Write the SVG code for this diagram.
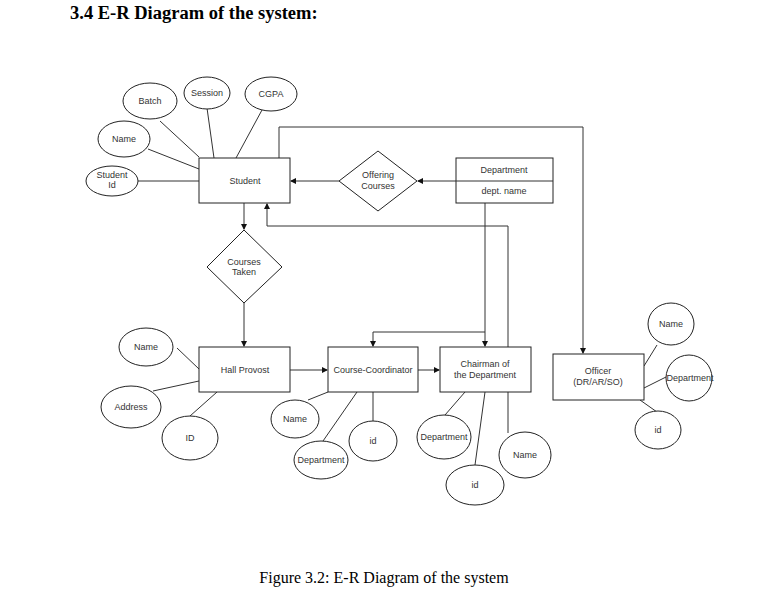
<svg xmlns="http://www.w3.org/2000/svg" width="764" height="599" viewBox="0 0 764 599">
<style>
.ent{fill:#fff;stroke:#222;stroke-width:1}
.att{fill:#fff;stroke:#222;stroke-width:1}
.t{font-family:"Liberation Sans",Arial,sans-serif;font-size:9px;fill:#333;text-anchor:middle}
.c{fill:none;stroke:#333;stroke-width:1}
</style>
<defs>
<marker id="ah" markerWidth="6" markerHeight="6" refX="5" refY="3" orient="auto" markerUnits="userSpaceOnUse">
<path d="M0,0 L6,3 L0,6 Z" fill="#111"/>
</marker>
</defs>
<rect width="764" height="599" fill="#fff"/>
<text x="70" y="19" font-family="Liberation Serif,'Times New Roman',serif" font-weight="bold" font-size="18.5" fill="#000">3.4 E-R Diagram of the system:</text>
<text x="384" y="583" font-family="Liberation Serif,'Times New Roman',serif" font-size="16" fill="#000" text-anchor="middle">Figure 3.2: E-R Diagram of the system</text>

<g id="connectors">
<line class="c" x1="160" y1="121" x2="199" y2="157"/>
<line class="c" x1="148" y1="149" x2="199" y2="169"/>
<line class="c" x1="138" y1="181" x2="199" y2="181"/>
<line class="c" x1="207" y1="108" x2="214" y2="158"/>
<line class="c" x1="262" y1="110" x2="236" y2="158"/>
<polyline class="c" points="279,158 279,127 583,127 583,353" marker-end="url(#ah)"/>
<line class="c" x1="456" y1="181" x2="418" y2="181" marker-end="url(#ah)"/>
<line class="c" x1="339" y1="181" x2="291" y2="181" marker-end="url(#ah)"/>
<line class="c" x1="244" y1="203" x2="244" y2="229" marker-end="url(#ah)"/>
<line class="c" x1="244" y1="303" x2="244" y2="346" marker-end="url(#ah)"/>
<line class="c" x1="290" y1="370" x2="327" y2="370" marker-end="url(#ah)"/>
<line class="c" x1="418" y1="370" x2="439" y2="370" marker-end="url(#ah)"/>
<line class="c" x1="485" y1="203" x2="485" y2="346" marker-end="url(#ah)"/>
<polyline class="c" points="485,332 373,332 373,346" marker-end="url(#ah)"/>
<polyline class="c" points="508,347 508,226 267,226 267,204" marker-end="url(#ah)"/>
<line class="c" x1="177" y1="348" x2="199" y2="369"/>
<line class="c" x1="153" y1="391" x2="199" y2="381"/>
<line class="c" x1="190" y1="416" x2="217" y2="392"/>
<line class="c" x1="308" y1="400" x2="328" y2="392"/>
<line class="c" x1="323" y1="441" x2="357" y2="392"/>
<line class="c" x1="373" y1="392" x2="373" y2="421"/>
<line class="c" x1="445" y1="415" x2="465" y2="392"/>
<line class="c" x1="475" y1="465" x2="485" y2="392"/>
<line class="c" x1="508" y1="433" x2="508" y2="392"/>
<line class="c" x1="657" y1="345" x2="644" y2="366"/>
<line class="c" x1="666" y1="377" x2="644" y2="388"/>
<line class="c" x1="657" y1="412" x2="640" y2="400"/>
</g>

<g id="student">
<rect class="ent" x="199" y="158" width="91" height="45"/>
<text class="t" x="245" y="184">Student</text>
</g>
<g id="student-batch">
<ellipse class="att" cx="150" cy="101" rx="27" ry="18"/>
<text class="t" x="150" y="104">Batch</text>
</g>
<g id="student-session">
<ellipse class="att" cx="207" cy="93" rx="23" ry="16"/>
<text class="t" x="207" y="96">Session</text>
</g>
<g id="student-cgpa">
<ellipse class="att" cx="271" cy="94" rx="26" ry="17"/>
<text class="t" x="271" y="97">CGPA</text>
</g>
<g id="student-name">
<ellipse class="att" cx="124" cy="139" rx="26" ry="18"/>
<text class="t" x="124" y="142">Name</text>
</g>
<g id="student-id">
<ellipse class="att" cx="112" cy="181" rx="26" ry="15"/>
<text class="t" x="112" y="178">Student</text>
<text class="t" x="112" y="188">Id</text>
</g>

<g id="offering-courses">
<polygon class="ent" points="378,151 417,181 378,211 339,181"/>
<text class="t" x="378" y="178">Offering</text>
<text class="t" x="378" y="189">Courses</text>
</g>

<g id="department">
<rect class="ent" x="456" y="158" width="97" height="45"/>
<line class="c" x1="456" y1="181" x2="553" y2="181"/>
<text class="t" x="504" y="173">Department</text>
<text class="t" x="504" y="194">dept. name</text>
</g>

<g id="courses-taken">
<polygon class="ent" points="244,230 282,267 244,303 207,267"/>
<text class="t" x="244" y="265">Courses</text>
<text class="t" x="244" y="275">Taken</text>
</g>

<g id="hall-provost">
<rect class="ent" x="199" y="347" width="91" height="45"/>
<text class="t" x="245" y="373">Hall Provost</text>
</g>
<g id="hp-name">
<ellipse class="att" cx="146" cy="347" rx="27" ry="19"/>
<text class="t" x="146" y="350">Name</text>
</g>
<g id="hp-address">
<ellipse class="att" cx="131" cy="407" rx="30" ry="21"/>
<text class="t" x="131" y="410">Address</text>
</g>
<g id="hp-id">
<ellipse class="att" cx="190" cy="438" rx="28" ry="22"/>
<text class="t" x="190" y="441">ID</text>
</g>

<g id="course-coordinator">
<rect class="ent" x="328" y="347" width="90" height="45"/>
<text class="t" x="373" y="373">Course-Coordinator</text>
</g>
<g id="cc-name">
<ellipse class="att" cx="295" cy="419" rx="24" ry="19"/>
<text class="t" x="295" y="422">Name</text>
</g>
<g id="cc-department">
<ellipse class="att" cx="321" cy="460" rx="27" ry="19"/>
<text class="t" x="321" y="463">Department</text>
</g>
<g id="cc-id">
<ellipse class="att" cx="373" cy="441" rx="24" ry="20"/>
<text class="t" x="373" y="444">id</text>
</g>

<g id="chairman">
<rect class="ent" x="440" y="347" width="91" height="45"/>
<text class="t" x="485" y="367">Chairman of</text>
<text class="t" x="485" y="378">the Department</text>
</g>
<g id="ch-department">
<ellipse class="att" cx="444" cy="437" rx="27" ry="22"/>
<text class="t" x="444" y="440">Department</text>
</g>
<g id="ch-id">
<ellipse class="att" cx="475" cy="485" rx="29" ry="20"/>
<text class="t" x="475" y="488">id</text>
</g>
<g id="ch-name">
<ellipse class="att" cx="525" cy="455" rx="26" ry="23"/>
<text class="t" x="525" y="458">Name</text>
</g>

<g id="officer">
<rect class="ent" x="553" y="354" width="91" height="46"/>
<text class="t" x="598" y="374">Officer</text>
<text class="t" x="598" y="385">(DR/AR/SO)</text>
</g>
<g id="of-name">
<ellipse class="att" cx="671" cy="324" rx="23" ry="21"/>
<text class="t" x="671" y="327">Name</text>
</g>
<g id="of-department">
<ellipse class="att" cx="689" cy="378" rx="23" ry="23"/>
<text class="t" x="690" y="381">Department</text>
</g>
<g id="of-id">
<ellipse class="att" cx="658" cy="430" rx="23" ry="19"/>
<text class="t" x="658" y="433">id</text>
</g>
</svg>
